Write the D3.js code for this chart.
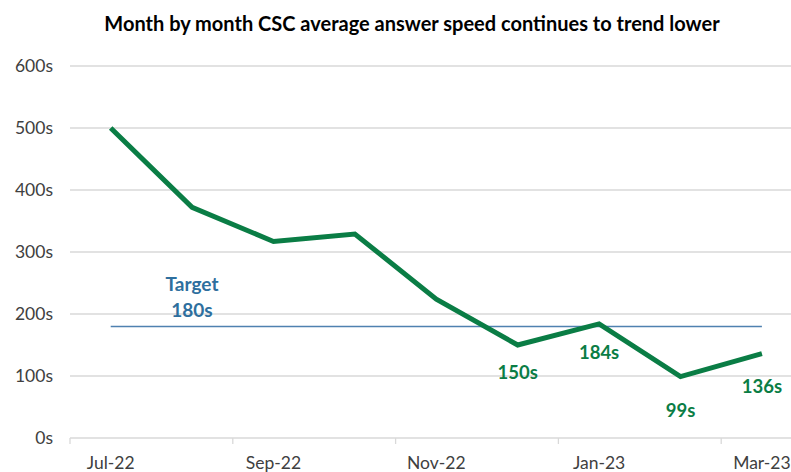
<!DOCTYPE html>
<html>
<head>
<meta charset="utf-8">
<script src="https://cdn.jsdelivr.net/npm/d3@7"></script>
<style>
  body { margin: 0; background: #fff; }
  svg { font-family: Lato, "Open Sans", sans-serif; }
</style>
</head>
<body>
<div class="chart"></div>
<script>
// monthly average answer speed (seconds)
const months = ['Jul-22', 'Aug-22', 'Sep-22', 'Oct-22', 'Nov-22', 'Dec-22', 'Jan-23', 'Feb-23', 'Mar-23'];
const speeds = [500, 372, 317, 329, 224, 150, 184, 99, 136];
const target = 180;
const yTicks = [0, 100, 200, 300, 400, 500, 600];
const labelledMonths = ['Dec-22', 'Jan-23', 'Feb-23', 'Mar-23'];

const width = 791, height = 472;
const plot = { left: 70, top: 66, bottom: 438 };
const band = 81.4;

const svg = d3.select('.chart').append('svg')
  .attr('width', width)
  .attr('height', height);

const x = d3.scaleBand()
  .domain(months)
  .range([plot.left, plot.left + band * months.length]);

const y = d3.scaleLinear()
  .domain([0, 600])
  .range([plot.bottom, plot.top]);

// title
svg.append('text')
  .attr('x', 412)
  .attr('y', 31)
  .attr('text-anchor', 'middle')
  .style('font-size', '20px')
  .style('font-weight', 'bold')
  .attr('fill', '#000')
  .text('Month by month CSC average answer speed continues to trend lower');

// gridlines
svg.append('g').selectAll('line').data(yTicks)
  .join('line')
  .attr('x1', plot.left)
  .attr('x2', width)
  .attr('y1', d => y(d))
  .attr('y2', d => y(d))
  .attr('stroke', '#d9d9d9')
  .attr('stroke-width', 1.3);

// y labels
svg.append('g').selectAll('text').data(yTicks)
  .join('text')
  .attr('x', 53)
  .attr('y', d => y(d) + 6)
  .attr('text-anchor', 'end')
  .style('font-size', '17.5px')
  .attr('fill', '#404040')
  .text(d => d + 's');

// x axis, tick every other month at the band edge
const xAxis = svg.append('g')
  .attr('transform', `translate(0,${plot.bottom})`);
xAxis.selectAll('line').data(months.filter((d, i) => i % 2 === 0))
  .join('line')
  .attr('x1', d => x(d))
  .attr('x2', d => x(d))
  .attr('y1', 0)
  .attr('y2', 6)
  .attr('stroke', '#d9d9d9')
  .attr('stroke-width', 1.3);
xAxis.selectAll('text').data(months.filter((d, i) => i % 2 === 0))
  .join('text')
  .attr('x', d => x(d) + x.bandwidth() / 2)
  .attr('y', 31)
  .attr('text-anchor', 'middle')
  .style('font-size', '17.5px')
  .attr('fill', '#404040')
  .text(d => d);

const cx = d => x(d) + x.bandwidth() / 2;

// target line
svg.append('line')
  .attr('x1', cx(months[0]))
  .attr('x2', cx(months[months.length - 1]))
  .attr('y1', y(target))
  .attr('y2', y(target))
  .attr('stroke', '#4f81b0')
  .attr('stroke-width', 1.5);

const targetLabel = svg.append('text')
  .attr('text-anchor', 'middle')
  .style('font-size', '19px')
  .style('font-weight', 'bold')
  .attr('fill', '#2e6f9e');
targetLabel.append('tspan').attr('x', 192).attr('y', y(target) - 35).text('Target');
targetLabel.append('tspan').attr('x', 192).attr('y', y(target) - 9).text(target + 's');

// speed line
const line = d3.line()
  .x((d, i) => cx(months[i]))
  .y(d => y(d));

svg.append('path')
  .datum(speeds)
  .attr('d', line)
  .attr('fill', 'none')
  .attr('stroke', '#0a7d45')
  .attr('stroke-width', 5)
  .attr('stroke-linejoin', 'miter');

// data labels below the last few points
const labelOffset = { 'Dec-22': 34, 'Jan-23': 35, 'Feb-23': 40, 'Mar-23': 39 };
svg.append('g').selectAll('text').data(labelledMonths)
  .join('text')
  .attr('x', d => cx(d))
  .attr('y', d => y(speeds[months.indexOf(d)]) + labelOffset[d])
  .attr('text-anchor', 'middle')
  .style('font-size', '18.5px')
  .style('font-weight', 'bold')
  .attr('fill', '#0a7d45')
  .text(d => speeds[months.indexOf(d)] + 's');
</script>
</body>
</html>
